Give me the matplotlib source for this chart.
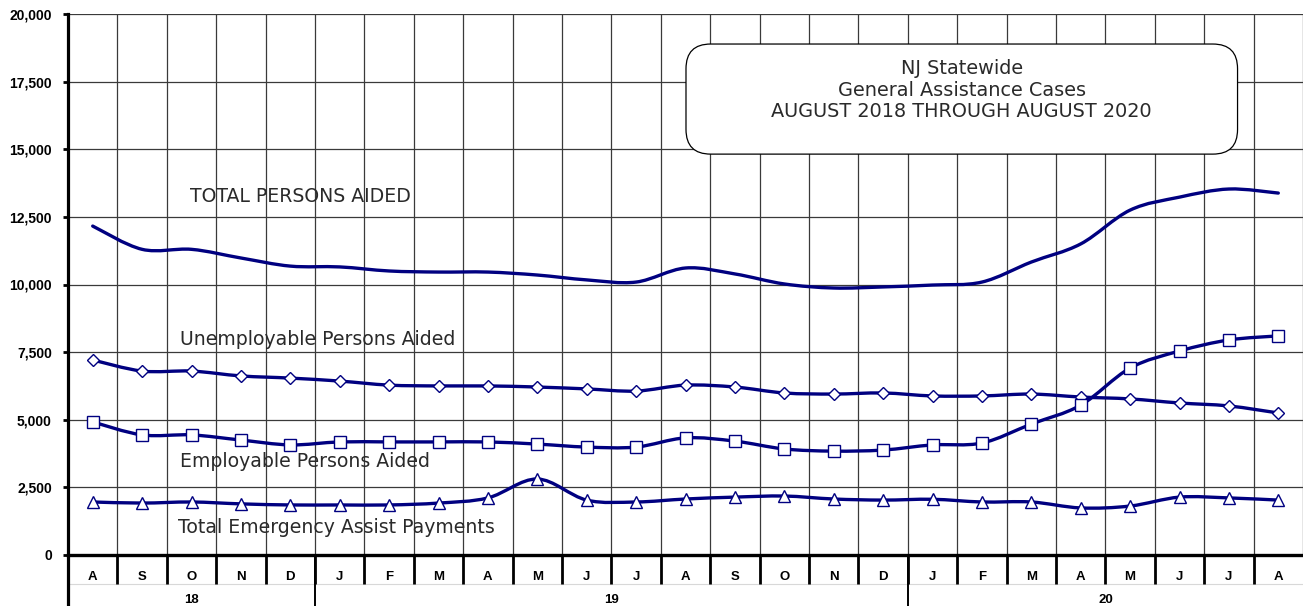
import numpy as np
import matplotlib.pyplot as plt
from matplotlib.path import Path
from matplotlib.patches import PathPatch, FancyBboxPatch
import matplotlib.transforms as mtransforms

plt.rcParams['font.family'] = ['DejaVu Sans']

months = ['A', 'S', 'O', 'N', 'D', 'J', 'F', 'M', 'A', 'M', 'J', 'J', 'A',
          'S', 'O', 'N', 'D', 'J', 'F', 'M', 'A', 'M', 'J', 'J', 'A']
years = ['18', '19', '20']
year_counts = [5, 12, 8]

total_aided = [12160, 11300, 11300, 10980, 10680, 10650, 10500, 10460, 10460,
               10350, 10170, 10090, 10610, 10390, 10020, 9870, 9910, 9980,
               10090, 10830, 11500, 12750, 13230, 13530, 13380]
unemployable = [7210, 6800, 6800, 6620, 6540, 6430, 6280, 6250, 6250, 6210,
                6140, 6060, 6280, 6210, 5990, 5950, 5990, 5880, 5880, 5950,
                5840, 5770, 5620, 5510, 5250]
employable = [4920, 4440, 4440, 4250, 4070, 4180, 4180, 4180, 4180, 4100,
              3990, 3990, 4330, 4210, 3920, 3840, 3880, 4070, 4140, 4840,
              5540, 6910, 7540, 7950, 8100]
emergency = [1960, 1920, 1960, 1890, 1850, 1850, 1850, 1920, 2110, 2810,
             2030, 1960, 2070, 2140, 2180, 2070, 2030, 2060, 1960, 1960,
             1740, 1810, 2140, 2110, 2030]

navy = '#000080'
bold_font = dict(family=['Liberation Sans', 'DejaVu Sans'], fontweight='bold')


def smooth_path(x, y):
    # excel style smoothed line, catmull-rom as cubic bezier
    p = np.column_stack([x, y]).astype(float)
    n = len(p)
    verts = [p[0]]
    codes = [Path.MOVETO]
    for i in range(n - 1):
        p0 = p[i - 1] if i > 0 else p[i]
        p3 = p[i + 2] if i + 2 < n else p[i + 1]
        c1 = p[i] + (p[i + 1] - p0) / 6.0
        c2 = p[i + 1] - (p3 - p[i]) / 6.0
        verts += [c1, c2, p[i + 1]]
        codes += [Path.CURVE4] * 3
    return Path(verts, codes)


fig = plt.figure(figsize=(13.03, 6.06), dpi=100)
ax = fig.add_axes([68 / 1303, 51 / 606, 1235 / 1303, 541 / 606])

x = np.arange(len(months))
series = [(total_aided, None, 0),
          (unemployable, 'D', 6.5),
          (employable, 's', 8.5),
          (emergency, '^', 8)]
for vals, mk, ms in series:
    ax.add_patch(PathPatch(smooth_path(x, vals), fill=False, edgecolor=navy,
                           lw=2.4, zorder=3, capstyle='round'))
    if mk:
        ax.plot(x, vals, ls='none', marker=mk, ms=ms, mfc='white', mec=navy,
                mew=1.0, zorder=4)

ax.set_xlim(-0.5, len(months) - 0.5)
ax.set_ylim(0, 20000)
ax.set_yticks(np.arange(0, 20001, 2500))
ax.set_yticklabels([f'{v:,}' for v in range(0, 20001, 2500)],
                   fontsize=10, **bold_font)
ax.set_xticks(np.arange(-0.5, len(months), 1.0))
ax.set_xticklabels([])
ax.tick_params(axis='x', length=0)
ax.tick_params(axis='y', length=3.6, width=2, pad=8)
ax.grid(True, color='#3a3a3a', lw=0.9)
ax.set_axisbelow(True)
for s in ['top', 'right']:
    ax.spines[s].set_visible(False)
ax.spines['left'].set_linewidth(2.3)
ax.spines['bottom'].set_linewidth(2.4)

# category table below the axis
trans = mtransforms.blended_transform_factory(ax.transData, ax.transAxes)
ax.plot([-0.5, len(months) - 0.5], [-0.0536, -0.0536], transform=trans,
        color='#d8d8d8', lw=0.8, clip_on=False)
for i, m in enumerate(months):
    ax.text(i, -0.0407, m, transform=trans, ha='center', va='center',
            fontsize=9.5, **bold_font)
for i in range(1, len(months)):
    ax.plot([i - 0.5, i - 0.5], [0, -0.0536], transform=trans, color='black',
            lw=2, clip_on=False, solid_capstyle='butt')
start = 0
for yr, cnt in zip(years, year_counts):
    ax.text(start + cnt / 2 - 0.5, -0.083, yr, transform=trans, ha='center',
            va='center', fontsize=9.5, **bold_font)
    ax.plot([start - 0.5, start - 0.5], [0, -0.1], transform=trans,
            color='black', lw=2.3 if start == 0 else 1.4, clip_on=False,
            solid_capstyle='butt')
    start += cnt

# series labels
lab = dict(fontsize=13.6, color='#2a2a2a', va='center', ha='left')
ax.text(1.97, 13235, 'TOTAL PERSONS AIDED', **lab)
ax.text(1.77, 7985, 'Unemployable Persons Aided', **lab)
ax.text(1.77, 3440, 'Employable Persons Aided', **lab)
ax.text(1.73, 1000, 'Total Emergency Assist Payments', **lab)

# title box
box = FancyBboxPatch((0.5004, 0.741), 0.4466, 0.2035, transform=ax.transAxes,
                     boxstyle='round,pad=0,rounding_size=0.02',
                     mutation_aspect=1235 / 541,
                     fc='white', ec='black', lw=0.9, zorder=5)
ax.add_patch(box)
ax.text(0.7237, 0.859, 'NJ Statewide\nGeneral Assistance Cases\n'
        'AUGUST 2018 THROUGH AUGUST 2020', transform=ax.transAxes,
        ha='center', va='center', fontsize=13.9, linespacing=1.18,
        color='#2a2a2a', zorder=6)

fig.savefig('out.png', dpi=100)
